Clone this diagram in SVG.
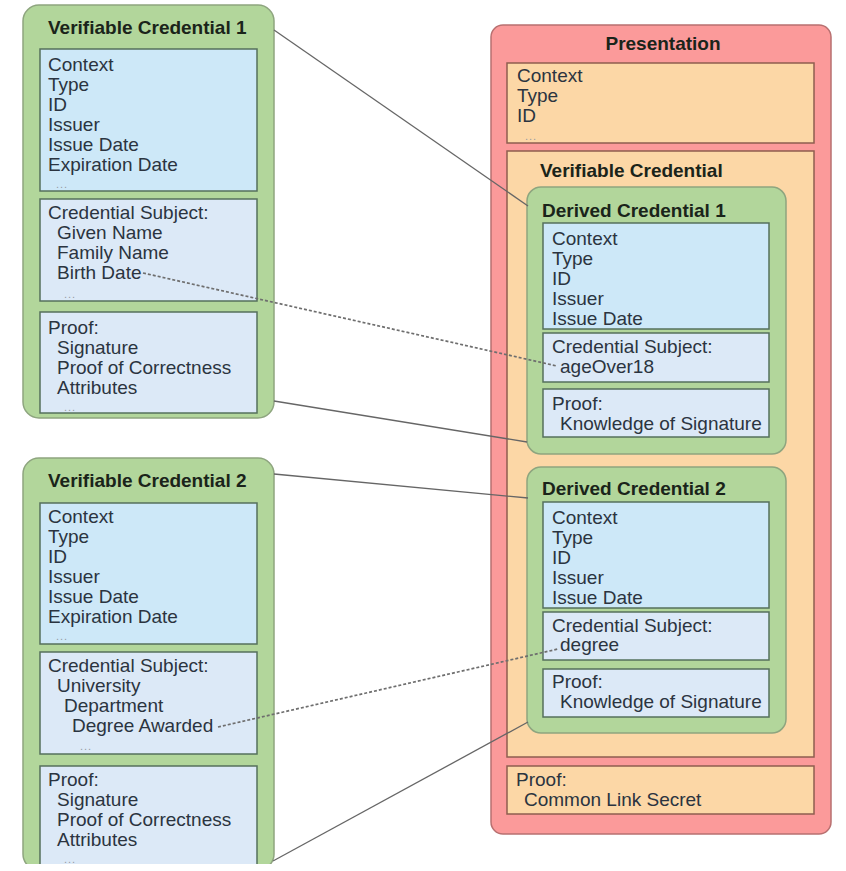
<svg xmlns="http://www.w3.org/2000/svg" width="846" height="871" viewBox="0 0 846 871">
  <style>
    text { font-family: "Liberation Sans", Arial, sans-serif; font-size: 19px; fill: #2b3440; }
    .title { font-weight: bold; fill: #1a241a; }
    .dots { font-size: 11px; fill: #959ba3; letter-spacing: 1px; }
    .green { fill: #b2d69b; stroke: #8ea57f; stroke-width: 1.5; }
    .blue { fill: #cde8f8; stroke: #55705c; stroke-width: 1.5; }
    .pale { fill: #dce9f7; stroke: #55705c; stroke-width: 1.5; }
    .red { fill: #fb9a9a; stroke: #b87070; stroke-width: 1.5; }
    .peach { fill: #fcd7a6; stroke: #8e5e4f; stroke-width: 1.5; }
    .link { stroke: #666666; stroke-width: 1.3; fill: none; }
    .ref { stroke: #6e6e6e; stroke-width: 1.7; fill: none; stroke-dasharray: 3 2; }
  </style>
  <defs>
    <clipPath id="page">
      <rect x="0" y="0" width="846" height="864"/>
    </clipPath>
  </defs>
  <rect width="846" height="871" fill="#ffffff"/>

  <!-- Verifiable Credential 1 -->
  <g id="vc1">
    <rect class="green" x="23" y="5" width="251" height="413" rx="16"/>
    <text class="title" x="48" y="34">Verifiable Credential 1</text>
    <rect class="blue" x="40" y="49" width="217" height="142"/>
    <text x="48" y="71">Context</text>
    <text x="48" y="91">Type</text>
    <text x="48" y="111">ID</text>
    <text x="48" y="131">Issuer</text>
    <text x="48" y="151">Issue Date</text>
    <text x="48" y="171">Expiration Date</text>
    <text class="dots" x="56" y="188">...</text>
    <rect class="pale" x="40" y="199" width="217" height="102"/>
    <text x="48" y="219">Credential Subject:</text>
    <text x="57" y="239">Given Name</text>
    <text x="57" y="259">Family Name</text>
    <text x="57" y="279">Birth Date</text>
    <text class="dots" x="64" y="298">...</text>
    <rect class="pale" x="40" y="312" width="217" height="101"/>
    <text x="48" y="334">Proof:</text>
    <text x="57" y="354">Signature</text>
    <text x="57" y="374">Proof of Correctness</text>
    <text x="57" y="394">Attributes</text>
    <text class="dots" x="64" y="411">...</text>
  </g>

  <!-- Verifiable Credential 2 (runs off the lower edge) -->
  <g id="vc2" clip-path="url(#page)">
    <rect class="green" x="23" y="458" width="251" height="412" rx="16"/>
    <text class="title" x="48" y="487">Verifiable Credential 2</text>
    <rect class="blue" x="40" y="503" width="217" height="141"/>
    <text x="48" y="523">Context</text>
    <text x="48" y="543">Type</text>
    <text x="48" y="563">ID</text>
    <text x="48" y="583">Issuer</text>
    <text x="48" y="603">Issue Date</text>
    <text x="48" y="623">Expiration Date</text>
    <text class="dots" x="56" y="640">...</text>
    <rect class="pale" x="40" y="652" width="217" height="102"/>
    <text x="48" y="672">Credential Subject:</text>
    <text x="57" y="692">University</text>
    <text x="64" y="712">Department</text>
    <text x="72" y="732">Degree Awarded</text>
    <text class="dots" x="80" y="750">...</text>
    <rect class="pale" x="40" y="766" width="217" height="110"/>
    <text x="48" y="786">Proof:</text>
    <text x="57" y="806">Signature</text>
    <text x="57" y="826">Proof of Correctness</text>
    <text x="57" y="846">Attributes</text>
    <text class="dots" x="64" y="863">...</text>
  </g>

  <!-- Presentation -->
  <g id="presentation">
    <rect class="red" x="491" y="25" width="340" height="809" rx="12"/>
    <text class="title" x="663" y="50" text-anchor="middle">Presentation</text>
    <rect class="peach" x="507" y="63" width="307" height="80"/>
    <text x="517" y="82">Context</text>
    <text x="517" y="102">Type</text>
    <text x="517" y="122">ID</text>
    <text class="dots" x="525" y="140">...</text>
  </g>

  <g id="presentation-vc">
    <rect class="peach" x="507" y="151" width="307" height="606"/>
    <text class="title" x="540" y="177">Verifiable Credential</text>
  </g>

  <g id="derived1">
    <rect class="green" x="527" y="187" width="259" height="267" rx="14"/>
    <text class="title" x="542" y="217">Derived Credential 1</text>
    <rect class="blue" x="543" y="223" width="226" height="106"/>
    <text x="552" y="245">Context</text>
    <text x="552" y="265">Type</text>
    <text x="552" y="285">ID</text>
    <text x="552" y="305">Issuer</text>
    <text x="552" y="325">Issue Date</text>
    <rect class="pale" x="543" y="333" width="226" height="49"/>
    <text x="552" y="353">Credential Subject:</text>
    <text x="560" y="373">ageOver18</text>
    <rect class="pale" x="543" y="389" width="226" height="48"/>
    <text x="552" y="410">Proof:</text>
    <text x="560" y="430">Knowledge of Signature</text>
  </g>

  <g id="derived2">
    <rect class="green" x="527" y="467" width="259" height="266" rx="14"/>
    <text class="title" x="542" y="495">Derived Credential 2</text>
    <rect class="blue" x="543" y="502" width="226" height="106"/>
    <text x="552" y="524">Context</text>
    <text x="552" y="544">Type</text>
    <text x="552" y="564">ID</text>
    <text x="552" y="584">Issuer</text>
    <text x="552" y="604">Issue Date</text>
    <rect class="pale" x="543" y="612" width="226" height="48"/>
    <text x="552" y="632">Credential Subject:</text>
    <text x="560" y="651">degree</text>
    <rect class="pale" x="543" y="669" width="226" height="48"/>
    <text x="552" y="688">Proof:</text>
    <text x="560" y="708">Knowledge of Signature</text>
  </g>

  <g id="presentation-proof">
    <rect class="peach" x="507" y="766" width="307" height="48"/>
    <text x="516" y="786">Proof:</text>
    <text x="524" y="806">Common Link Secret</text>
  </g>

  <!-- connectors -->
  <g id="connectors">
    <line class="link" x1="274" y1="30" x2="528" y2="206"/>
    <line class="link" x1="274" y1="401" x2="527" y2="442"/>
    <line class="link" x1="274" y1="474" x2="528" y2="498"/>
    <line class="link" x1="273" y1="861" x2="528" y2="722"/>
    <line class="ref" x1="143" y1="273" x2="557" y2="366"/>
    <line class="ref" x1="218" y1="727" x2="558" y2="649"/>
  </g>
</svg>
